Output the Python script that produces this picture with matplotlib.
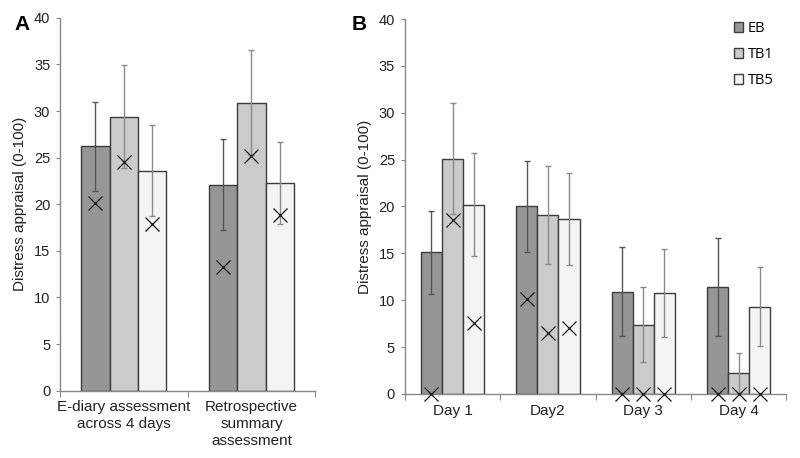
import matplotlib.pyplot as plt
import numpy as np

plt.rcParams['font.family'] = ['Liberation Sans', 'DejaVu Sans']

groups = ['EB', 'TB1', 'TB5']
colors = ['#969696', '#cbcbcb', '#f4f4f4']

# panel A
cats_a = ['E-diary assessment\nacross 4 days', 'Retrospective\nsummary\nassessment']
mean_a = {'EB': [26.2, 22.1], 'TB1': [29.4, 30.9], 'TB5': [23.6, 22.3]}
err_a = {'EB': [4.8, 4.9], 'TB1': [5.5, 5.6], 'TB5': [4.9, 4.4]}
cross_a = {'EB': [20.1, 13.3], 'TB1': [24.5, 25.2], 'TB5': [17.9, 18.9]}

# panel B
cats_b = ['Day 1', 'Day2', 'Day 3', 'Day 4']
mean_b = {'EB': [15.1, 20.0, 10.9, 11.4],
          'TB1': [25.1, 19.1, 7.4, 2.2],
          'TB5': [20.2, 18.7, 10.8, 9.3]}
err_b = {'EB': [4.4, 4.85, 4.75, 5.2],
         'TB1': [5.9, 5.2, 4.0, 2.2],
         'TB5': [5.5, 4.9, 4.7, 4.2]}
cross_b = {'EB': [0, 10.1, 0, 0],
           'TB1': [18.6, 6.5, 0, 0],
           'TB5': [7.6, 7.0, 0, 0]}


def draw(ax, cats, means, errs, crosses, legend=False):
    n = len(cats)
    centers = np.arange(n) + 0.5
    w = 0.222
    for i, g in enumerate(groups):
        xs = centers + (i - 1) * w
        ecol = '#555555' if g == 'EB' else '#8a8a8a'
        ax.bar(xs, means[g], width=w, color=colors[i], edgecolor='#3c3c3c',
               linewidth=1.0, label=g, zorder=2)
        ax.errorbar(xs, means[g], yerr=errs[g], fmt='none', ecolor=ecol,
                    elinewidth=1.0, capsize=2.5, capthick=1.0, zorder=3)
        ax.plot(xs, crosses[g], linestyle='none', marker='x', color='#111111',
                markersize=9.5, markeredgewidth=0.9, zorder=4, clip_on=False)
    ax.set_xlim(0, n)
    ax.set_ylim(0, 40)
    ax.set_yticks(range(0, 41, 5))
    ax.set_xticks(range(n + 1))
    ax.set_xticklabels([])
    ax.set_xticks(centers, minor=True)
    ax.set_xticklabels(cats, minor=True, fontsize=11, color='#222222',
                       linespacing=1.25)
    ax.tick_params(axis='x', which='minor', length=0, pad=7)
    ax.tick_params(axis='x', which='major', length=4, color='#888888',
                   direction='out')
    ax.tick_params(axis='y', length=3, color='#888888', labelsize=10.5,
                   labelcolor='#222222', pad=4)
    for s in ['top', 'right']:
        ax.spines[s].set_visible(False)
    for s in ['left', 'bottom']:
        ax.spines[s].set_color('#888888')
        ax.spines[s].set_linewidth(1.0)
    ax.set_ylabel('Distress appraisal (0-100)', fontsize=11, color='#222222',
                  labelpad=5)
    if legend:
        ax.legend(loc='upper right', frameon=False, handlelength=0.65,
                  handleheight=0.65, handletextpad=0.3, labelspacing=0.75,
                  prop={'family': 'Open Sans', 'size': 10.5},
                  bbox_to_anchor=(1.0, 1.03))


fig = plt.figure(figsize=(8, 4.58), dpi=100)
ax_a = fig.add_axes([0.075, 0.147, 0.319, 0.814])
ax_b = fig.add_axes([0.506, 0.140, 0.477, 0.8185])

draw(ax_a, cats_a, mean_a, err_a, cross_a)
draw(ax_b, cats_b, mean_b, err_b, cross_b, legend=True)

fig.text(0.018, 0.947, 'A', fontsize=15, fontweight='bold', va='center')
fig.text(0.44, 0.947, 'B', fontsize=15, fontweight='bold', va='center')

fig.savefig('out.png', dpi=100)
